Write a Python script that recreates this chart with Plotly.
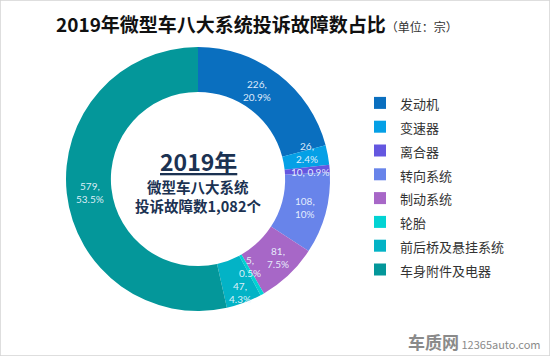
import math
import plotly.graph_objects as go

# ---- data ----
categories = ["发动机", "变速器", "离合器", "转向系统", "制动系统", "轮胎", "前后桥及悬挂系统", "车身附件及电器"]
values = [226, 26, 10, 108, 81, 5, 47, 579]
colors = ["#0A6FBF", "#05A0E6", "#6457E0", "#6884EA", "#A767C7", "#02D3D3", "#03B3C6", "#04979A"]
year_label = "2019年"
center_line2 = "微型车八大系统"
center_line3 = "投诉故障数1,082个"
title_main = "2019年微型车八大系统投诉故障数占比"
title_unit = "（单位：宗）"

# ---- style / layout ----
W, H = 550, 356
cx, cy, R = 198, 179, 132   # pie centre (px from left/top) and radius
hole = 0.66
# small pixel nudges for the slice labels (style only), same order as categories
label_nudge = [(-8, -2), (1, -7), (3, 2), (1, 0), (5, -1), (-1, -8), (4, 11), (1, 1)]

total = sum(values)


def fmt_pct(v):
    p = round(v / total * 100, 1)
    s = f"{p:.1f}"
    if s.endswith(".0"):
        s = s[:-2]
    return s + "%"


legend_labels = [f"<span style='font-size:13px'>{c}</span>" for c in categories]

fig = go.Figure()
fig.add_trace(go.Pie(
    labels=legend_labels,
    values=values,
    sort=False,
    direction="clockwise",
    rotation=0,
    hole=hole,
    marker=dict(colors=colors, line=dict(width=0)),
    textinfo="none",
    hoverinfo="label+value+percent",
    domain=dict(x=[(cx - R) / W, (cx + R) / W], y=[(H - cy - R) / H, (H - cy + R) / H]),
    showlegend=True,
))

annotations = []
# slice labels placed at mid-ring radius along each slice's mid angle
r_lab = R * (1 + hole) / 2
cum = 0
for v, (dx, dy) in zip(values, label_nudge):
    mid = (cum + v / 2) / total * 2 * math.pi
    cum += v
    px = cx + r_lab * math.sin(mid) + dx
    py = cy - r_lab * math.cos(mid) + dy
    pct = fmt_pct(v)
    txt = f"{v}, {pct}" if v / total < 0.02 and v >= 10 else f"{v},<br>{pct}"
    annotations.append(dict(
        x=px / W, y=1 - py / H, xref="paper", yref="paper",
        xanchor="center", yanchor="middle",
        text=txt, showarrow=False,
        font=dict(family="Lato, Open Sans, sans-serif", size=10, color="rgba(235,245,255,0.95)"),
        align="center",
    ))

cjk = "Noto Sans CJK SC, sans-serif"
navy = "#1B3252"
annotations += [
    dict(x=cx / W, y=1 - 160.5 / H, xref="paper", yref="paper", showarrow=False,
         xanchor="center", yanchor="middle", borderpad=0,
         text=f"<b><u>{year_label}</u></b>", font=dict(family=cjk, size=23, color=navy)),
    dict(x=cx / W, y=1 - 186.5 / H, xref="paper", yref="paper", showarrow=False,
         xanchor="center", yanchor="middle", borderpad=0,
         text=f"<b>{center_line2}</b>", font=dict(family=cjk, size=14.5, color=navy)),
    dict(x=cx / W, y=1 - 205.5 / H, xref="paper", yref="paper", showarrow=False,
         xanchor="center", yanchor="middle", borderpad=0,
         text=f"<b>{center_line3}</b>", font=dict(family=cjk, size=14.5, color=navy)),
    dict(x=54 / W, y=1 - 24 / H, xref="paper", yref="paper", showarrow=False,
         xanchor="left", yanchor="middle",
         text=f"<b>{title_main}</b><span style='font-size:12px;color:#333'>{title_unit}</span>",
         font=dict(family=cjk, size=19, color="#111")),
    dict(x=543 / W, y=1 - 341 / H, xref="paper", yref="paper", showarrow=False,
         xanchor="right", yanchor="middle",
         text="<b><span style='font-size:17px'>车质网</span></b> 12365auto.com",
         font=dict(family=cjk, size=11, color="#8a8a8a")),
]

fig.update_layout(
    width=W, height=H,
    margin=dict(l=0, r=0, t=0, b=0),
    paper_bgcolor="white", plot_bgcolor="white",
    annotations=annotations,
    legend=dict(
        x=360 / W, y=1 - 86 / H, xanchor="left", yanchor="top",
        font=dict(family=cjk, size=16, color="#333"),
        bgcolor="rgba(0,0,0,0)",
    ),
    shapes=[dict(type="rect", xref="paper", yref="paper", x0=0, y0=0, x1=1, y1=1,
                 line=dict(color="#d4d4d4", width=1.5), layer="above")],
)

# remove the browser's default 8px body margin so the figure sits at the page origin
fig.write_html("out.html", config={"displayModeBar": False},
               post_script="document.body.style.margin='0';")
